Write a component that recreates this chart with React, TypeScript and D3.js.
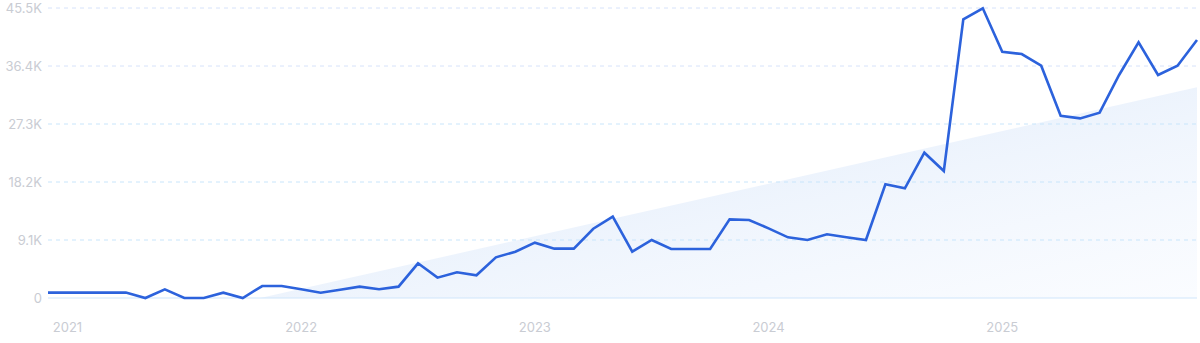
import React from "react";
import * as d3 from "d3";

const values: number[] = [
  850, 850, 850, 850, 850, 0, 1365, 0, 0, 830,
  0, 1880, 1880, 1365, 830, 1300, 1780, 1365, 1780, 5440,
  3190, 4030, 3560, 6380, 7270, 8680, 7740, 7740, 10870, 12760,
  7270, 9100, 7690, 7690, 7690, 12340, 12240, 10930, 9520, 9100,
  9990, 9520, 9100, 17840, 17210, 22800, 19920, 43720, 45450, 38640,
  38280, 36450, 28600, 28180, 29070, 34990, 40110, 34990, 36450, 40480,
];

const yTicks: number[] = [0, 9100, 18200, 27300, 36400, 45500];
const yTickLabels: string[] = ["0", "9.1K", "18.2K", "27.3K", "36.4K", "45.5K"];
const yearLabels: string[] = ["2021", "2022", "2023", "2024", "2025"];
const yearIndex: number[] = [1, 13, 25, 37, 49];
const trendEnds: number[] = [-7490, 33060];

const W = 1200;
const H = 343;
const left = 48;
const right = 1197;
const top = 8;
const bottom = 298;

export default function App() {
  const x = d3.scaleLinear().domain([0, values.length - 1]).range([left, right]);
  const y = d3.scaleLinear().domain([0, 45500]).range([bottom, top]);

  const line = d3
    .line<number>()
    .x((_, i) => x(i))
    .y((d) => y(d))
    .curve(d3.curveLinear);

  const n = values.length - 1;
  const tr = (i: number) => trendEnds[0] + ((trendEnds[1] - trendEnds[0]) * i) / n;
  const zeroI = (-trendEnds[0] * n) / (trendEnds[1] - trendEnds[0]);
  const trendPts: [number, number][] = [
    [zeroI, 0],
    [n, tr(n)],
  ];
  const area = d3
    .area<[number, number]>()
    .x((d) => x(d[0]))
    .y0(() => y(0))
    .y1((d) => y(d[1]));

  const font = "Inter, 'Noto Sans', sans-serif";

  return (
    <svg
      width={W}
      height={H}
      style={{ position: "absolute", left: 0, top: 0, display: "block" }}
    >
      <defs>
        <linearGradient id="trendGrad" x1="0" y1="0" x2="1" y2="1" gradientUnits="objectBoundingBox">
          <stop offset="0%" stopColor="#dfeafb" stopOpacity={1} />
          <stop offset="45%" stopColor="#e9f1fc" stopOpacity={0.9} />
          <stop offset="100%" stopColor="#f7faff" stopOpacity={0.6} />
        </linearGradient>
      </defs>
      <rect x={0} y={0} width={W} height={H} fill="#ffffff" />
      <path d={area(trendPts) || ""} fill="url(#trendGrad)" />
      {yTicks.map((t, i) =>
        i === 0 ? null : (
          <line
            key={"g" + i}
            x1={left}
            x2={right}
            y1={y(t)}
            y2={y(t)}
            stroke={i >= 4 ? "#d6e2fa" : "#c8e5fb"}
            strokeWidth={1}
            strokeDasharray="4 4"
          />
        )
      )}
      <line x1={left} x2={right} y1={y(0)} y2={y(0)} stroke="#cfe6fb" strokeWidth={1.2} />
      {yTicks.map((t, i) => (
        <text
          key={"yl" + i}
          x={42}
          y={y(t)}
          dy="0.35em"
          textAnchor="end"
          fontFamily={font}
          fontSize={13}
          fill="#c9ccd3"
        >
          {yTickLabels[i]}
        </text>
      ))}
      {yearLabels.map((lab, i) => (
        <text
          key={"xl" + i}
          x={x(yearIndex[i])}
          y={327}
          dy="0.35em"
          textAnchor="middle"
          fontFamily={font}
          fontSize={13}
          fill="#c9ccd3"
        >
          {lab}
        </text>
      ))}
      <path
        d={line(values) || ""}
        fill="none"
        stroke="#2c62dc"
        strokeWidth={2.6}
        strokeLinejoin="miter"
      />
    </svg>
  );
}
